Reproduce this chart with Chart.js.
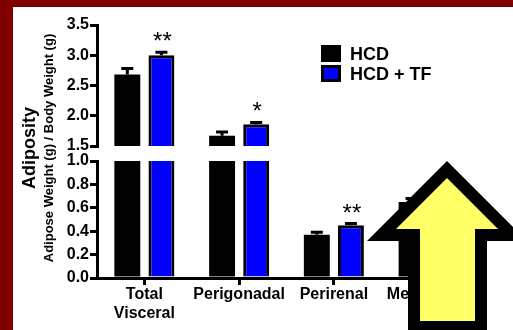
<!DOCTYPE html>
<html>
<head>
<meta charset="utf-8">
<script src="https://cdn.jsdelivr.net/npm/chart.js@4.4.1/dist/chart.umd.min.js"></script>
<style>
  html, body { margin: 0; padding: 0; width: 513px; height: 330px; overflow: hidden; background: #800000; }
  #panel { position: absolute; left: 13px; top: 7px; width: 500px; height: 323px; background: #ffffff; }
  canvas { display: block; }
</style>
</head>
<body>
<div id="panel"><canvas id="chart" width="500" height="323"></canvas></div>
<script>
// Fat depot categories and group means / SEM (g adipose per g body weight)
const categories = [['Total', 'Visceral'], 'Perigonadal', 'Perirenal', 'Mesenteric'];
const seriesNames = ['HCD', 'HCD + TF'];
const hcdMeans = [2.68, 1.67, 0.37, 0.65];
const hcdSEM   = [0.10, 0.06, 0.02, 0.03];
const tfMeans  = [3.00, 1.86, 0.45, 0.72];
const tfSEM    = [0.05, 0.03, 0.015, 0.03];
const significance = ['**', '*', '**', ''];
// Broken value axis: lower and upper segments
const lowerTicks = [0.0, 0.2, 0.4, 0.6, 0.8, 1.0];
const upperTicks = [1.5, 2.0, 2.5, 3.0, 3.5];

const LOW_MAX = lowerTicks[lowerTicks.length - 1];
const HIGH_MIN = upperTicks[0];
const lowPart = arr => arr.map(v => [0, Math.min(v, LOW_MAX)]);
const highPart = arr => arr.map(v => (v > HIGH_MIN ? [HIGH_MIN, v] : null));

const FONT = "'Liberation Sans', Arial, Helvetica, sans-serif";
const BLACK = '#000000';
const BLUE = '#0000ff';

function valueAxis(ticks, stackWeight, weight) {
  return {
    type: 'linear',
    position: 'left',
    stack: 'value',
    stackWeight: stackWeight,
    weight: weight,
    min: ticks[0],
    max: ticks[ticks.length - 1],
    afterBuildTicks: s => { s.ticks = ticks.map(v => ({ value: v })); },
    afterFit: s => { s.width = 84; },
    ticks: {
      autoSkip: false,
      padding: 1,
      color: BLACK,
      font: { family: FONT, size: 16, weight: 'bold' },
      callback: v => Number(v).toFixed(1)
    },
    grid: { display: true, drawOnChartArea: false, drawTicks: true, tickLength: 7, lineWidth: 3, color: BLACK },
    border: { display: true, color: BLACK, width: 3 }
  };
}

// Error bars (upper whisker) and significance marks
const errorBars = {
  id: 'errorBars',
  afterDatasetsDraw(chart) {
    const ctx = chart.ctx;
    const groups = [
      { means: hcdMeans, sem: hcdSEM, low: 0, high: 2, marks: false },
      { means: tfMeans, sem: tfSEM, low: 1, high: 3, marks: true }
    ];
    ctx.save();
    ctx.strokeStyle = BLACK;
    ctx.lineWidth = 3;
    groups.forEach(g => {
      g.means.forEach((m, i) => {
        const upper = m > HIGH_MIN;
        const scale = upper ? chart.scales.yHigh : chart.scales.yLow;
        const el = chart.getDatasetMeta(upper ? g.high : g.low).data[i];
        if (!el) return;
        const x = el.x;
        const yBar = scale.getPixelForValue(m);
        const yTop = scale.getPixelForValue(m + g.sem[i]);
        ctx.beginPath();
        ctx.moveTo(x, yBar);
        ctx.lineTo(x, yTop);
        ctx.moveTo(x - 6, yTop);
        ctx.lineTo(x + 6, yTop);
        ctx.stroke();
        if (g.marks && significance[i]) {
          ctx.fillStyle = BLACK;
          ctx.font = '24px ' + FONT;
          ctx.textAlign = 'center';
          ctx.textBaseline = 'alphabetic';
          ctx.fillText(significance[i], x + 1, yTop - 3);
        }
      });
    });
    ctx.restore();
  }
};

// Axis title, legend and the callout arrow
const decorations = {
  id: 'decorations',
  afterDraw(chart) {
    const ctx = chart.ctx;
    ctx.save();
    // value-axis title (two lines, rotated)
    ctx.fillStyle = BLACK;
    ctx.textAlign = 'center';
    ctx.textBaseline = 'middle';
    ctx.translate(17, 141);
    ctx.rotate(-Math.PI / 2);
    ctx.font = 'bold 18px ' + FONT;
    ctx.fillText('Adiposity', 0, 0);
    ctx.font = 'bold 13px ' + FONT;
    ctx.fillText('Adipose Weight (g) / Body Weight (g)', 0, 19);
    ctx.restore();

    // legend
    ctx.save();
    const lx = 308, ly = 38, bw = 20, bh = 17, gap = 20;
    const fills = [BLACK, BLUE];
    seriesNames.forEach((name, k) => {
      const y = ly + k * gap;
      ctx.fillStyle = BLACK;
      ctx.fillRect(lx, y, bw, bh);
      if (fills[k] !== BLACK) {
        ctx.fillStyle = fills[k];
        ctx.fillRect(lx + 3, y + 3, bw - 6, bh - 6);
      }
      ctx.fillStyle = BLACK;
      ctx.font = 'bold 18px ' + FONT;
      ctx.textAlign = 'left';
      ctx.textBaseline = 'alphabetic';
      ctx.fillText(name, lx + 29, y + 15);
    });
    ctx.restore();

    // callout arrow
    ctx.save();
    const outer = [[434, 154], [514, 234], [474, 234], [474, 330], [395, 330], [395, 234], [354, 234]];
    const inner = [[434, 171], [485, 222], [462, 222], [462, 314], [407, 314], [407, 222], [383, 222]];
    const poly = (pts, color) => {
      ctx.beginPath();
      pts.forEach(([x, y], i) => (i ? ctx.lineTo(x, y) : ctx.moveTo(x, y)));
      ctx.closePath();
      ctx.fillStyle = color;
      ctx.fill();
    };
    poly(outer, BLACK);
    poly(inner, '#ffff66');
    ctx.restore();
  }
};

new Chart(document.getElementById('chart'), {
  type: 'bar',
  data: {
    labels: categories,
    datasets: [
      { label: seriesNames[0], data: lowPart(hcdMeans), yAxisID: 'yLow', stack: 'hcd',
        backgroundColor: BLACK, borderWidth: 0 },
      { label: seriesNames[1], data: lowPart(tfMeans), yAxisID: 'yLow', stack: 'tf',
        backgroundColor: BLUE, borderColor: BLACK, borderSkipped: false,
        borderWidth: tfMeans.map(v => ({ left: 3, right: 3, bottom: 0, top: v > LOW_MAX ? 0 : 3 })) },
      { label: seriesNames[0], data: highPart(hcdMeans), yAxisID: 'yHigh', stack: 'hcd',
        backgroundColor: BLACK, borderWidth: 0 },
      { label: seriesNames[1], data: highPart(tfMeans), yAxisID: 'yHigh', stack: 'tf',
        backgroundColor: BLUE, borderColor: BLACK, borderSkipped: false,
        borderWidth: { left: 3, right: 3, top: 3, bottom: 0 } }
    ]
  },
  options: {
    responsive: false,
    animation: false,
    devicePixelRatio: 1,
    events: [],
    layout: { padding: { top: 18, right: 37, bottom: 0, left: 0 } },
    datasets: { bar: { categoryPercentage: 0.72, barPercentage: 0.76 } },
    plugins: { legend: { display: false }, tooltip: { enabled: false }, title: { display: false } },
    scales: {
      x: {
        type: 'category',
        afterFit: s => { s.height = 52; },
        ticks: { autoSkip: false, maxRotation: 0, padding: 0, color: BLACK,
                 font: { family: FONT, size: 16, weight: 'bold', lineHeight: 1.2 } },
        grid: { display: true, offset: false, drawOnChartArea: false, drawTicks: true,
                tickLength: 7, lineWidth: 3, color: BLACK },
        border: { display: true, color: BLACK, width: 3 }
      },
      yHigh: valueAxis(upperTicks, 121, 3),
      yGap: { type: 'linear', position: 'left', stack: 'value', stackWeight: 15, weight: 2, display: false },
      yLow: valueAxis(lowerTicks, 117, 1)
    }
  },
  plugins: [errorBars, decorations]
});
</script>
</body>
</html>
